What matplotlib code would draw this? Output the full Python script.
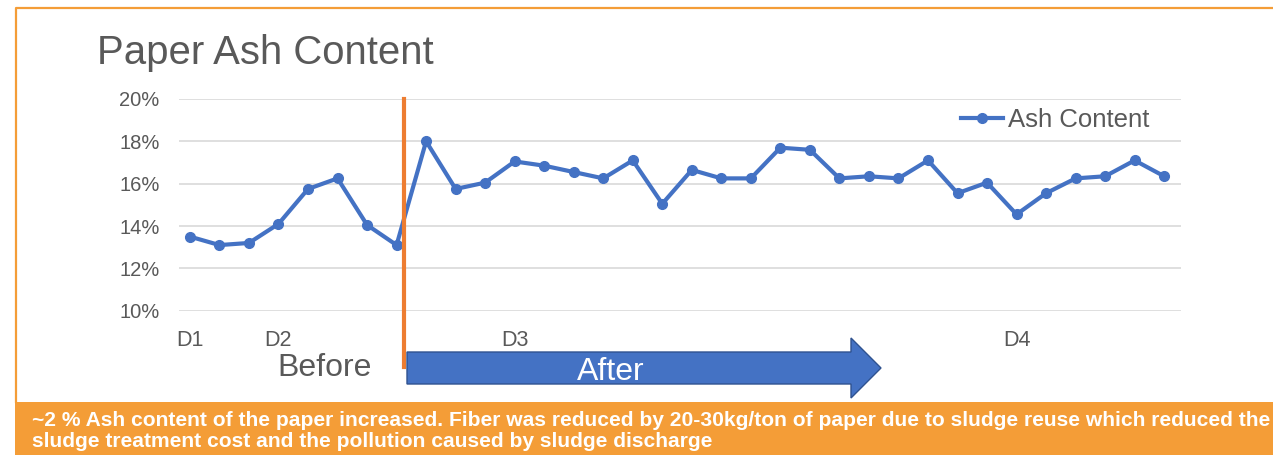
import matplotlib
matplotlib.use("Agg")
import matplotlib.pyplot as plt
from matplotlib.patches import FancyArrow, Rectangle
from matplotlib.lines import Line2D
from matplotlib.ticker import PercentFormatter

# data
ash = [13.5, 13.1, 13.2, 14.1, 15.75, 16.25, 14.05, 13.1,
       18.0, 15.75, 16.05, 17.05, 16.85, 16.55, 16.25, 17.1, 15.05,
       16.65, 16.25, 16.25, 17.7, 17.6, 16.25, 16.35, 16.25, 17.1,
       15.55, 16.05, 14.55, 15.55, 16.25, 16.35, 17.1, 16.35]
day_labels = {0: "D1", 3: "D2", 11: "D3", 28: "D4"}
switch_at = 7.25  # between last "before" and first "after" sample
y_ticks = [10, 12, 14, 16, 18, 20]

blue = "#4472C4"
orange = "#ED7D31"
bar_orange = "#F49D37"
grey = "#595959"

plt.rcParams["font.family"] = ["Liberation Sans", "DejaVu Sans"]

fig = plt.figure(figsize=(12.73, 4.55), dpi=100)
W, H = 1273, 455

ax = fig.add_axes([179 / W, 1 - 310.7 / H, 1002 / W, 211.7 / H])
x = list(range(len(ash)))
ax.plot(x, ash, color=blue, lw=3.0, marker="o", ms=7, label="Ash Content")

ax.set_ylim(10, 20)
ax.set_xlim(-0.37, len(ash) - 1 + 0.57)
ax.set_yticks(y_ticks)
ax.yaxis.set_major_formatter(PercentFormatter(decimals=0))
ax.set_xticks(list(day_labels.keys()))
ax.set_xticklabels(list(day_labels.values()), fontsize=15.5)
ax.grid(axis="y", color="#D9D9D9", lw=1.2)
ax.set_axisbelow(True)
for s in ax.spines.values():
    s.set_visible(False)
ax.tick_params(length=0, labelcolor=grey)
ax.tick_params(axis="y", pad=14, labelsize=14.5)
ax.tick_params(axis="x", pad=14)

# before / after marker line
ax.axvline(switch_at, ymin=-0.266, ymax=1, color=orange, lw=3, clip_on=False, zorder=5)

ax.legend(loc="center left", bbox_to_anchor=(0.780, 0.90), frameon=False,
          fontsize=18.5, labelcolor=grey, handlelength=1.65, handletextpad=0.2,
          borderpad=0, borderaxespad=0)

# title
fig.text(97 / W, 1 - 63.5 / H, "Paper Ash Content", fontsize=28.9, color=grey,
         va="baseline", ha="left")

# arrow (in inches from bottom-left)
inch = fig.dpi_scale_trans
arrow = FancyArrow(407 / 100, (H - 368) / 100, (881 - 407) / 100, 0,
                   width=0.32, head_width=0.60, head_length=0.30,
                   length_includes_head=True, transform=inch,
                   facecolor=blue, edgecolor="#2F528F", lw=1)
fig.add_artist(arrow)
fig.text(611 / W, 1 - 372 / H, "After", fontsize=23, color="white",
         ha="center", va="center")
fig.text(325 / W, 1 - 368 / H, "Before", fontsize=23, color=grey,
         ha="center", va="center")

# frame (top and left only) and bottom banner
fig.add_artist(Line2D([16 / W, 16 / W, 1], [53 / H, 1 - 7.5 / H, 1 - 7.5 / H],
                      transform=fig.transFigure, color=bar_orange, lw=1.6))
fig.add_artist(Rectangle((16 / W - 0.001, 0), 1, 53 / H, transform=fig.transFigure,
                         facecolor=bar_orange, edgecolor="none"))
note1 = ("~2 % Ash content of the paper increased. Fiber was reduced by 20-30kg/ton "
         "of paper due to sludge reuse which reduced the")
note2 = "sludge treatment cost and the pollution caused by sludge discharge"
fig.text(32 / W, 1 - 426 / H, note1, fontsize=15.1, color="white",
         fontweight="bold", va="baseline")
fig.text(32 / W, 1 - 447 / H, note2, fontsize=15.1, color="white",
         fontweight="bold", va="baseline")

fig.savefig("out.png", dpi=100)
